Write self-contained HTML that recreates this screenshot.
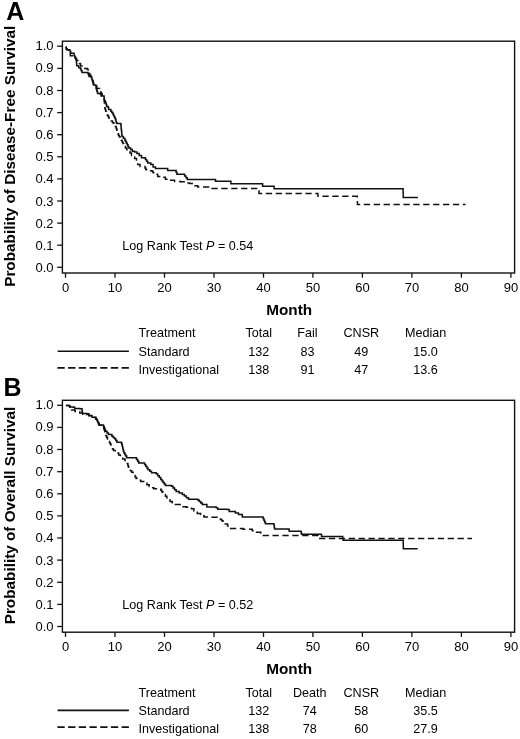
<!DOCTYPE html>
<html><head><meta charset="utf-8"><style>
html,body{margin:0;padding:0;background:#fff;}
body{width:520px;height:739px;overflow:hidden;}
svg{display:block;will-change:transform;}
text{font-family:"Liberation Sans", sans-serif;fill:#000;}
.tk{font-size:13px;}
.tb{font-size:12.6px;}
.bl{font-size:15.3px;font-weight:bold;}
.pl{font-size:25px;font-weight:bold;}
</style></head><body>
<svg width="520" height="739" viewBox="0 0 520 739">
<text x="6.3" y="19.8" class="pl">A</text>
<text x="3.6" y="395.7" class="pl">B</text>
<rect x="62.4" y="41.2" width="452.2" height="231.8" fill="none" stroke="#111" stroke-width="1.4"/>
<line x1="57.2" y1="267.3" x2="62.4" y2="267.3" stroke="#111" stroke-width="1.3"/>
<text x="53.5" y="272.22" text-anchor="end" class="tk">0.0</text>
<line x1="57.2" y1="245.2" x2="62.4" y2="245.2" stroke="#111" stroke-width="1.3"/>
<text x="53.5" y="250.02" text-anchor="end" class="tk">0.1</text>
<line x1="57.2" y1="223.1" x2="62.4" y2="223.1" stroke="#111" stroke-width="1.3"/>
<text x="53.5" y="227.82" text-anchor="end" class="tk">0.2</text>
<line x1="57.2" y1="201.0" x2="62.4" y2="201.0" stroke="#111" stroke-width="1.3"/>
<text x="53.5" y="205.62" text-anchor="end" class="tk">0.3</text>
<line x1="57.2" y1="178.9" x2="62.4" y2="178.9" stroke="#111" stroke-width="1.3"/>
<text x="53.5" y="183.42" text-anchor="end" class="tk">0.4</text>
<line x1="57.2" y1="156.8" x2="62.4" y2="156.8" stroke="#111" stroke-width="1.3"/>
<text x="53.5" y="161.22" text-anchor="end" class="tk">0.5</text>
<line x1="57.2" y1="134.7" x2="62.4" y2="134.7" stroke="#111" stroke-width="1.3"/>
<text x="53.5" y="139.02" text-anchor="end" class="tk">0.6</text>
<line x1="57.2" y1="112.6" x2="62.4" y2="112.6" stroke="#111" stroke-width="1.3"/>
<text x="53.5" y="116.82" text-anchor="end" class="tk">0.7</text>
<line x1="57.2" y1="90.5" x2="62.4" y2="90.5" stroke="#111" stroke-width="1.3"/>
<text x="53.5" y="94.62" text-anchor="end" class="tk">0.8</text>
<line x1="57.2" y1="68.4" x2="62.4" y2="68.4" stroke="#111" stroke-width="1.3"/>
<text x="53.5" y="72.42" text-anchor="end" class="tk">0.9</text>
<line x1="57.2" y1="46.2" x2="62.4" y2="46.2" stroke="#111" stroke-width="1.3"/>
<text x="53.5" y="50.22" text-anchor="end" class="tk">1.0</text>
<line x1="65.5" y1="273.0" x2="65.5" y2="277.7" stroke="#111" stroke-width="1.3"/>
<text x="65.5" y="291.9" text-anchor="middle" class="tk">0</text>
<line x1="115.0" y1="273.0" x2="115.0" y2="277.7" stroke="#111" stroke-width="1.3"/>
<text x="115.0" y="291.9" text-anchor="middle" class="tk">10</text>
<line x1="164.5" y1="273.0" x2="164.5" y2="277.7" stroke="#111" stroke-width="1.3"/>
<text x="164.5" y="291.9" text-anchor="middle" class="tk">20</text>
<line x1="214.0" y1="273.0" x2="214.0" y2="277.7" stroke="#111" stroke-width="1.3"/>
<text x="214.0" y="291.9" text-anchor="middle" class="tk">30</text>
<line x1="263.5" y1="273.0" x2="263.5" y2="277.7" stroke="#111" stroke-width="1.3"/>
<text x="263.5" y="291.9" text-anchor="middle" class="tk">40</text>
<line x1="312.9" y1="273.0" x2="312.9" y2="277.7" stroke="#111" stroke-width="1.3"/>
<text x="312.9" y="291.9" text-anchor="middle" class="tk">50</text>
<line x1="362.4" y1="273.0" x2="362.4" y2="277.7" stroke="#111" stroke-width="1.3"/>
<text x="362.4" y="291.9" text-anchor="middle" class="tk">60</text>
<line x1="411.9" y1="273.0" x2="411.9" y2="277.7" stroke="#111" stroke-width="1.3"/>
<text x="411.9" y="291.9" text-anchor="middle" class="tk">70</text>
<line x1="461.4" y1="273.0" x2="461.4" y2="277.7" stroke="#111" stroke-width="1.3"/>
<text x="461.4" y="291.9" text-anchor="middle" class="tk">80</text>
<line x1="510.9" y1="273.0" x2="510.9" y2="277.7" stroke="#111" stroke-width="1.3"/>
<text x="510.9" y="291.9" text-anchor="middle" class="tk">90</text>
<text transform="translate(14.8 156.3) rotate(-90)" text-anchor="middle" class="bl">Probability of Disease-Free Survival</text>
<text x="289.2" y="314.6" text-anchor="middle" class="bl">Month</text>
<text x="122.3" y="249.8" class="tb">Log Rank Test <tspan font-style="italic">P</tspan> = 0.54</text>
<path d="M65.9 46.9 H66.0 V47.3 H66.3 V48.9 H67.2 V49.8 H68.9 V50.1 H70.1 V51.5 H70.7 V53.3 H73.0 H74.1 V55.6 H74.7 V56.9 H75.3 V58.2 H75.8 V59.6 H76.4 V61.0 H76.5 V62.6 H76.6 V64.1 H76.7 V65.7 H78.7 V67.7 H80.5 V69.1 H81.2 V70.8 H82.0 V72.6 H88.0 V73.4 H88.5 V75.0 H89.0 V76.6 H91.1 V76.8 H91.5 V78.1 H91.9 V79.4 H92.5 V80.8 H93.0 V82.1 H93.2 V83.5 H93.5 V85.0 H95.7 V85.6 H96.0 V88.0 H96.4 V89.3 H96.8 V90.7 H97.2 V92.1 H97.6 V93.4 H100.0 V93.9 H101.1 V96.0 H104.0 H104.1 V97.5 H104.2 V98.9 H104.3 V100.4 H105.1 V102.1 H105.9 V103.7 H106.3 V105.1 H106.7 V106.4 H108.1 V107.2 H108.6 V109.6 H110.8 V111.2 H111.8 V112.6 H112.9 V113.9 H113.5 V115.2 H114.0 V116.6 H114.8 V118.2 H115.6 V119.8 H116.0 V121.4 H116.4 V123.0 H117.2 V123.5 H120.8 V124.4 H121.0 V126.1 H121.1 V127.9 H121.3 V129.6 H121.5 V131.3 H121.7 V133.0 H121.8 V134.8 H122.0 V136.5 H123.4 V138.2 H124.8 V140.0 H125.6 V141.6 H126.4 V143.2 H127.2 V144.8 H128.0 V146.4 H128.8 V148.0 H130.6 V149.6 H132.3 V151.2 H134.6 V151.9 H136.9 V153.5 H139.2 V155.4 H141.5 V157.7 H145.4 V159.6 H146.6 V161.3 H147.7 V163.1 H150.8 V164.6 H153.1 V166.9 H155.4 V168.5 H166.9 V168.6 H167.7 V170.5 H175.2 H176.1 V172.3 H176.9 V174.2 H183.3 H184.6 V175.9 H186.0 V177.7 H187.3 V179.4 H215.4 H215.5 V181.3 H230.8 H230.9 V183.8 H262.5 H262.6 V186.2 H274.0 H274.1 V188.7 H403.1 H403.1 V190.5 H403.1 V192.2 H403.2 V194.0 H403.2 V195.7 H403.2 V197.5 H417.9" fill="none" stroke="#111" stroke-width="1.5"/>
<path d="M65.9 46.9 H66.0 V47.3 H66.3 V48.9 H67.2 V49.8 H68.9 V50.1 H69.6 V51.7 H70.2 V53.3 H70.3 V55.8 H74.4 V56.0 H75.0 V57.3 H75.6 V58.6 H76.5 V60.6 H77.9 V62.1 H79.3 V63.6 H80.5 V66.0 H82.0 V68.5 H87.4 V69.6 H88.2 V71.5 H89.0 V73.5 H89.8 V75.0 H90.7 V76.5 H91.5 V78.0 H92.0 V79.5 H92.5 V81.0 H93.0 V82.5 H93.5 V84.0 H96.0 V86.0 H96.8 V88.4 H99.2 H99.6 V89.7 H100.0 V91.0 H100.7 V92.4 H101.5 V93.9 H102.2 V95.3 H104.0 V96.0 H104.1 V97.8 H104.2 V99.7 H104.3 V101.5 H104.4 V103.1 H104.5 V104.8 H104.7 V106.4 H104.8 V108.0 H105.2 V109.6 H105.7 V111.2 H106.3 V113.1 H107.0 V115.0 H108.0 V116.6 H108.9 V118.2 H110.1 V119.6 H111.3 V120.9 H112.5 V122.8 H113.8 V124.7 H115.0 V126.6 H116.2 V128.5 H116.8 V130.2 H117.3 V131.9 H117.9 V133.7 H118.5 V135.4 H119.4 V137.0 H120.3 V138.6 H121.2 V140.3 H122.1 V141.9 H123.0 V143.5 H123.8 V145.0 H124.6 V146.5 H125.4 V148.0 H126.9 V149.7 H128.5 V151.4 H130.0 V153.1 H131.5 V155.4 H133.1 V156.9 H134.6 V158.5 H136.5 V160.8 H137.1 V162.7 H137.7 V164.6 H140.0 V166.5 H145.0 V168.1 H145.8 V169.4 H146.5 V170.8 H152.3 V171.5 H153.1 V172.8 H153.8 V174.2 H157.7 V176.5 H162.3 V177.3 H165.4 V179.2 H169.2 V180.0 H170.6 V180.2 H174.6 V181.4 H180.4 V181.7 H185.0 V182.9 H189.6 V183.5 H194.2 V185.8 H197.7 V187.0 H211.0 H211.1 V188.5 H256.0 H257.5 V191.0 H259.0 V193.5 H317.9 H317.9 V194.9 H318.0 V196.3 H357.3 H357.3 V197.9 H357.3 V199.5 H357.4 V201.2 H357.4 V202.8 H357.4 V204.4 H465.6" fill="none" stroke="#111" stroke-width="1.5" stroke-dasharray="6.3 3.6"/>
<text x="138.5" y="337.3" class="tb">Treatment</text>
<text x="258.8" y="337.3" text-anchor="middle" class="tb">Total</text>
<text x="307.4" y="337.3" text-anchor="middle" class="tb">Fail</text>
<text x="361.3" y="337.3" text-anchor="middle" class="tb">CNSR</text>
<text x="425.6" y="337.3" text-anchor="middle" class="tb">Median</text>
<text x="138.5" y="355.5" class="tb">Standard</text>
<text x="258.8" y="355.5" text-anchor="middle" class="tb">132</text>
<text x="307.4" y="355.5" text-anchor="middle" class="tb">83</text>
<text x="361.3" y="355.5" text-anchor="middle" class="tb">49</text>
<text x="425.6" y="355.5" text-anchor="middle" class="tb">15.0</text>
<text x="138.5" y="373.7" class="tb">Investigational</text>
<text x="258.8" y="373.7" text-anchor="middle" class="tb">138</text>
<text x="307.4" y="373.7" text-anchor="middle" class="tb">91</text>
<text x="361.3" y="373.7" text-anchor="middle" class="tb">47</text>
<text x="425.6" y="373.7" text-anchor="middle" class="tb">13.6</text>
<line x1="57.6" y1="351.2" x2="128.9" y2="351.2" stroke="#111" stroke-width="1.6"/>
<line x1="57.4" y1="367.9" x2="130" y2="367.9" stroke="#111" stroke-width="1.8" stroke-dasharray="7.3 3.4"/>
<rect x="62.4" y="400.3" width="452.2" height="231.9" fill="none" stroke="#111" stroke-width="1.4"/>
<line x1="57.2" y1="626.5" x2="62.4" y2="626.5" stroke="#111" stroke-width="1.3"/>
<text x="53.5" y="631.27" text-anchor="end" class="tk">0.0</text>
<line x1="57.2" y1="604.4" x2="62.4" y2="604.4" stroke="#111" stroke-width="1.3"/>
<text x="53.5" y="609.07" text-anchor="end" class="tk">0.1</text>
<line x1="57.2" y1="582.3" x2="62.4" y2="582.3" stroke="#111" stroke-width="1.3"/>
<text x="53.5" y="586.87" text-anchor="end" class="tk">0.2</text>
<line x1="57.2" y1="560.1" x2="62.4" y2="560.1" stroke="#111" stroke-width="1.3"/>
<text x="53.5" y="564.67" text-anchor="end" class="tk">0.3</text>
<line x1="57.2" y1="538.0" x2="62.4" y2="538.0" stroke="#111" stroke-width="1.3"/>
<text x="53.5" y="542.47" text-anchor="end" class="tk">0.4</text>
<line x1="57.2" y1="515.9" x2="62.4" y2="515.9" stroke="#111" stroke-width="1.3"/>
<text x="53.5" y="520.27" text-anchor="end" class="tk">0.5</text>
<line x1="57.2" y1="493.8" x2="62.4" y2="493.8" stroke="#111" stroke-width="1.3"/>
<text x="53.5" y="498.07" text-anchor="end" class="tk">0.6</text>
<line x1="57.2" y1="471.7" x2="62.4" y2="471.7" stroke="#111" stroke-width="1.3"/>
<text x="53.5" y="475.87" text-anchor="end" class="tk">0.7</text>
<line x1="57.2" y1="449.5" x2="62.4" y2="449.5" stroke="#111" stroke-width="1.3"/>
<text x="53.5" y="453.67" text-anchor="end" class="tk">0.8</text>
<line x1="57.2" y1="427.4" x2="62.4" y2="427.4" stroke="#111" stroke-width="1.3"/>
<text x="53.5" y="431.47" text-anchor="end" class="tk">0.9</text>
<line x1="57.2" y1="405.3" x2="62.4" y2="405.3" stroke="#111" stroke-width="1.3"/>
<text x="53.5" y="409.27" text-anchor="end" class="tk">1.0</text>
<line x1="65.5" y1="632.2" x2="65.5" y2="636.9" stroke="#111" stroke-width="1.3"/>
<text x="65.5" y="651.1" text-anchor="middle" class="tk">0</text>
<line x1="115.0" y1="632.2" x2="115.0" y2="636.9" stroke="#111" stroke-width="1.3"/>
<text x="115.0" y="651.1" text-anchor="middle" class="tk">10</text>
<line x1="164.5" y1="632.2" x2="164.5" y2="636.9" stroke="#111" stroke-width="1.3"/>
<text x="164.5" y="651.1" text-anchor="middle" class="tk">20</text>
<line x1="214.0" y1="632.2" x2="214.0" y2="636.9" stroke="#111" stroke-width="1.3"/>
<text x="214.0" y="651.1" text-anchor="middle" class="tk">30</text>
<line x1="263.5" y1="632.2" x2="263.5" y2="636.9" stroke="#111" stroke-width="1.3"/>
<text x="263.5" y="651.1" text-anchor="middle" class="tk">40</text>
<line x1="312.9" y1="632.2" x2="312.9" y2="636.9" stroke="#111" stroke-width="1.3"/>
<text x="312.9" y="651.1" text-anchor="middle" class="tk">50</text>
<line x1="362.4" y1="632.2" x2="362.4" y2="636.9" stroke="#111" stroke-width="1.3"/>
<text x="362.4" y="651.1" text-anchor="middle" class="tk">60</text>
<line x1="411.9" y1="632.2" x2="411.9" y2="636.9" stroke="#111" stroke-width="1.3"/>
<text x="411.9" y="651.1" text-anchor="middle" class="tk">70</text>
<line x1="461.4" y1="632.2" x2="461.4" y2="636.9" stroke="#111" stroke-width="1.3"/>
<text x="461.4" y="651.1" text-anchor="middle" class="tk">80</text>
<line x1="510.9" y1="632.2" x2="510.9" y2="636.9" stroke="#111" stroke-width="1.3"/>
<text x="510.9" y="651.1" text-anchor="middle" class="tk">90</text>
<text transform="translate(14.8 515.5) rotate(-90)" text-anchor="middle" class="bl">Probability of Overall Survival</text>
<text x="289.2" y="673.8" text-anchor="middle" class="bl">Month</text>
<text x="122.3" y="609.0" class="tb">Log Rank Test <tspan font-style="italic">P</tspan> = 0.52</text>
<path d="M65.9 405.4 H66.2 H69.3 V405.8 H69.7 V406.9 H73.5 V407.3 H74.7 V408.5 H79.7 V408.8 H82.0 V410.8 H82.2 V412.1 H82.4 V413.5 H86.6 V413.8 H88.9 V415.4 H92.0 V417.3 H95.8 V418.8 H96.8 V420.6 H97.7 V422.3 H98.5 V423.6 H99.2 V425.0 H102.7 H103.5 V426.6 H104.2 V428.1 H104.8 V429.6 H105.4 V431.2 H107.0 V432.9 H108.5 V434.6 H111.9 V436.2 H113.2 V437.5 H114.6 V438.8 H115.8 V440.6 H116.9 V442.3 H121.2 V442.7 H121.8 V444.6 H122.3 V446.5 H122.7 V448.1 H123.0 V449.6 H123.4 V451.1 H123.8 V452.7 H124.8 V454.4 H125.7 V456.0 H126.7 V457.7 H135.4 H136.5 V459.4 H137.7 V461.2 H138.8 V462.9 H144.6 V464.6 H145.7 V466.3 H146.9 V468.1 H148.0 V469.8 H149.8 V471.2 H151.5 V472.7 H156.2 V473.8 H157.7 V475.7 H159.3 V477.5 H160.8 V479.4 H162.0 V480.9 H163.1 V482.4 H164.2 V483.9 H165.4 V485.4 H171.5 V486.2 H173.1 V488.0 H174.6 V489.7 H176.2 V491.5 H179.2 V493.1 H182.3 V494.6 H184.4 V496.1 H186.4 V497.7 H188.5 V499.2 H197.7 V500.0 H199.2 V501.5 H200.8 V503.1 H202.3 V504.6 H206.9 V506.9 H216.2 V507.7 H217.7 V509.2 H226.9 V509.5 H229.2 V511.5 H235.4 V513.1 H238.5 V514.6 H242.3 V516.9 H262.3 H263.1 V518.6 H263.9 V520.3 H264.6 V522.1 H265.4 V523.8 H273.8 V524.6 H274.1 V526.0 H274.3 V527.5 H274.6 V528.9 H288.5 V529.2 H289.2 V531.3 H300.8 H301.1 V532.8 H301.5 V534.2 H321.0 H321.5 V536.6 H342.3 H342.7 V538.4 H343.1 V540.2 H403.2 H403.2 V541.9 H403.2 V543.6 H403.3 V545.4 H403.3 V547.1 H403.3 V548.8 H417.7" fill="none" stroke="#111" stroke-width="1.5"/>
<path d="M65.9 405.4 H66.2 H69.3 V405.8 H69.7 V406.9 H70.7 V408.4 H71.6 V410.0 H75.0 V411.5 H79.7 V413.0 H82.8 V414.2 H86.6 V414.5 H88.9 V415.8 H92.0 V417.5 H95.8 V419.2 H96.8 V420.9 H97.7 V422.5 H98.5 V423.9 H99.2 V425.2 H102.7 V425.5 H103.2 V427.0 H103.7 V428.5 H104.2 V430.0 H104.8 V431.8 H105.3 V433.6 H105.9 V435.5 H106.5 V437.3 H107.5 V439.2 H108.5 V441.2 H109.5 V442.7 H110.4 V444.2 H111.0 V445.8 H111.5 V447.3 H112.5 V448.9 H113.5 V450.4 H115.2 V451.7 H116.9 V453.0 H118.7 V455.1 H120.4 V457.1 H122.7 V458.9 H125.0 V460.6 H126.2 V462.1 H127.3 V463.5 H127.9 V465.4 H128.4 V467.3 H129.0 V469.2 H130.4 V470.7 H131.7 V472.3 H133.1 V473.8 H134.1 V475.4 H135.1 V477.0 H136.1 V478.6 H137.1 V480.2 H140.8 V481.6 H144.6 V483.1 H146.9 V484.8 H149.2 V486.5 H150.0 V487.7 H153.8 V488.8 H160.8 V490.2 H161.8 V491.7 H162.8 V493.1 H163.8 V494.6 H165.4 V496.3 H166.9 V498.1 H168.4 V499.8 H170.0 V501.5 H172.3 V503.1 H174.6 V504.6 H182.9 V506.8 H186.3 V507.2 H191.5 V508.7 H193.9 V511.1 H197.3 V513.5 H200.7 V514.4 H202.3 V515.8 H204.0 V517.1 H209.8 V517.3 H218.9 V518.0 H220.4 V519.4 H221.8 V520.7 H223.0 V522.4 H224.2 V524.0 H227.6 V526.0 H229.5 V528.5 H243.0 V529.2 H252.3 V530.8 H255.4 V532.3 H260.8 V533.1 H262.3 V535.4 H318.0 H318.2 V536.9 H318.5 V538.4 H472.0" fill="none" stroke="#111" stroke-width="1.5" stroke-dasharray="6.3 3.6"/>
<text x="138.5" y="696.5" class="tb">Treatment</text>
<text x="258.8" y="696.5" text-anchor="middle" class="tb">Total</text>
<text x="309.8" y="696.5" text-anchor="middle" class="tb">Death</text>
<text x="361.3" y="696.5" text-anchor="middle" class="tb">CNSR</text>
<text x="425.6" y="696.5" text-anchor="middle" class="tb">Median</text>
<text x="138.5" y="714.7" class="tb">Standard</text>
<text x="258.8" y="714.7" text-anchor="middle" class="tb">132</text>
<text x="309.8" y="714.7" text-anchor="middle" class="tb">74</text>
<text x="361.3" y="714.7" text-anchor="middle" class="tb">58</text>
<text x="425.6" y="714.7" text-anchor="middle" class="tb">35.5</text>
<text x="138.5" y="732.9" class="tb">Investigational</text>
<text x="258.8" y="732.9" text-anchor="middle" class="tb">138</text>
<text x="309.8" y="732.9" text-anchor="middle" class="tb">78</text>
<text x="361.3" y="732.9" text-anchor="middle" class="tb">60</text>
<text x="425.6" y="732.9" text-anchor="middle" class="tb">27.9</text>
<line x1="57.6" y1="710.4" x2="128.9" y2="710.4" stroke="#111" stroke-width="1.6"/>
<line x1="57.4" y1="727.1" x2="130" y2="727.1" stroke="#111" stroke-width="1.8" stroke-dasharray="7.3 3.4"/>
</svg>
</body></html>
